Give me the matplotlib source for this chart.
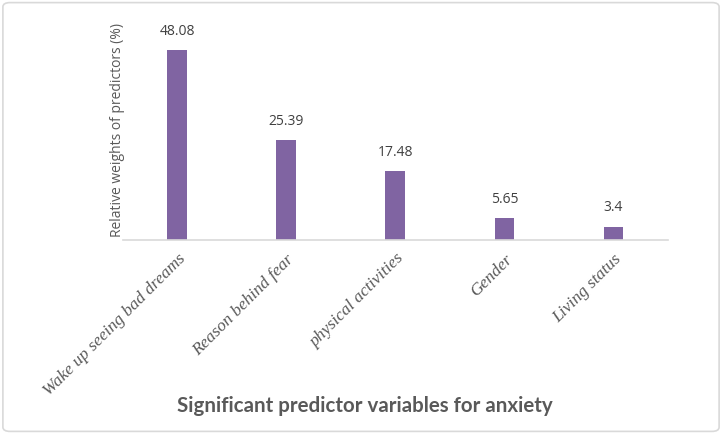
import matplotlib.pyplot as plt
import numpy as np
from matplotlib.patches import FancyBboxPatch

# Data
predictors = ['Wake up seeing bad dreams', 'Reason behind fear', 'physical activities',
              'Gender', 'Living status']
weights = [48.08, 25.39, 17.48, 5.65, 3.4]
value_labels = ['48.08', '25.39', '17.48', '5.65', '3.4']

fig = plt.figure(figsize=(7.22, 4.34), dpi=100)
ax = fig.add_axes([0.170, 0.447, 0.755, 0.50])

x = np.arange(len(predictors))
ax.bar(x, weights, width=0.18, color='#8064a2', zorder=2)

for xi, w, lab in zip(x, weights, value_labels):
    ax.annotate(lab, (xi, w), xytext=(0, 8), textcoords='offset points',
                ha='center', va='bottom', fontsize=10, color='#404040',
                family='Open Sans')

ax.set_xlim(-0.5, len(predictors) - 0.5)
ax.set_ylim(0, 55)
ax.set_yticks([])
ax.set_xticks(x)
ax.set_xticklabels(predictors, rotation=45, ha='right', rotation_mode='anchor',
                   family='Liberation Serif', style='italic', fontsize=12.5,
                   color='#595959')
ax.tick_params(axis='x', length=0, pad=8)
for s in ['top', 'right', 'left']:
    ax.spines[s].set_visible(False)
ax.spines['bottom'].set_color('#d9d9d9')
ax.spines['bottom'].set_linewidth(1.2)

fig.text(0.163, 0.70, 'Relative weights of predictors (%)', rotation=90,
         ha='center', va='center', fontsize=10, color='#595959',
         family='Open Sans')

fig.text(0.505, 0.065, 'Significant predictor variables for anxiety',
         ha='center', va='center', fontsize=14.8, fontweight='bold',
         color='#595959', family='Lato')

# Light border around the chart
border = FancyBboxPatch((0.004, 0.006), 0.992, 0.988,
                        boxstyle='round,pad=0,rounding_size=0.01',
                        transform=fig.transFigure, fill=False,
                        edgecolor='#d9d9d9', linewidth=1.2)
fig.patches.append(border)

fig.savefig('out.png', dpi=100)
